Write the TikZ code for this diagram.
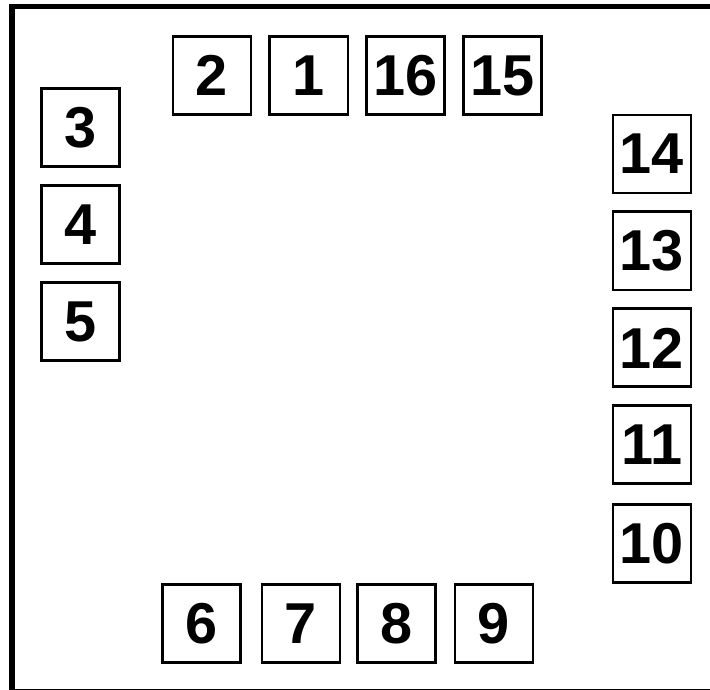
\documentclass[tikz,border=0pt]{standalone}
\usepackage{fontspec}
\setmainfont{Liberation Sans}
\usetikzlibrary{positioning}
\tikzset{
  pinbox/.style={draw,rectangle,line width=2.1pt,minimum size=1.95cm,inner sep=0pt,
    font=\bfseries\fontsize{41}{41}\selectfont},
  frame/.style={draw,line width=3.6pt},
}
\begin{document}
\begin{tikzpicture}[x=0.025cm,y=-0.025cm,node distance=0.4cm]

\useasboundingbox (0,0) rectangle (710,690);
\clip (0,0) rectangle (710,690);
\draw[frame] (12,6.5) rectangle (716,691.5);

% top row
\node[pinbox] (pin2) at (212,75.5) {2};
\node[pinbox,right=of pin2] (pin1) {1};
\node[pinbox,right=of pin1] (pin16) {16};
\node[pinbox,right=of pin16] (pin15) {15};

% left column
\node[pinbox] (pin3) at (80.5,127.5) {3};
\node[pinbox,below=of pin3] (pin4) {4};
\node[pinbox,below=of pin4] (pin5) {5};

% right column
\node[pinbox] (pin14) at (652,154) {14};
\node[pinbox,below=of pin14] (pin13) {13};
\node[pinbox,below=of pin13] (pin12) {12};
\node[pinbox,below=of pin12] (pin11) {11};
\node[pinbox,below=0.45cm of pin11] (pin10) {10};

% bottom row
\node[pinbox] (pin6) at (201.5,623.5) {6};
\node[pinbox] (pin7) at (301,623.5) {7};
\node[pinbox] (pin8) at (396.5,623.5) {8};
\node[pinbox] (pin9) at (494,623.5) {9};

\end{tikzpicture}
\end{document}
